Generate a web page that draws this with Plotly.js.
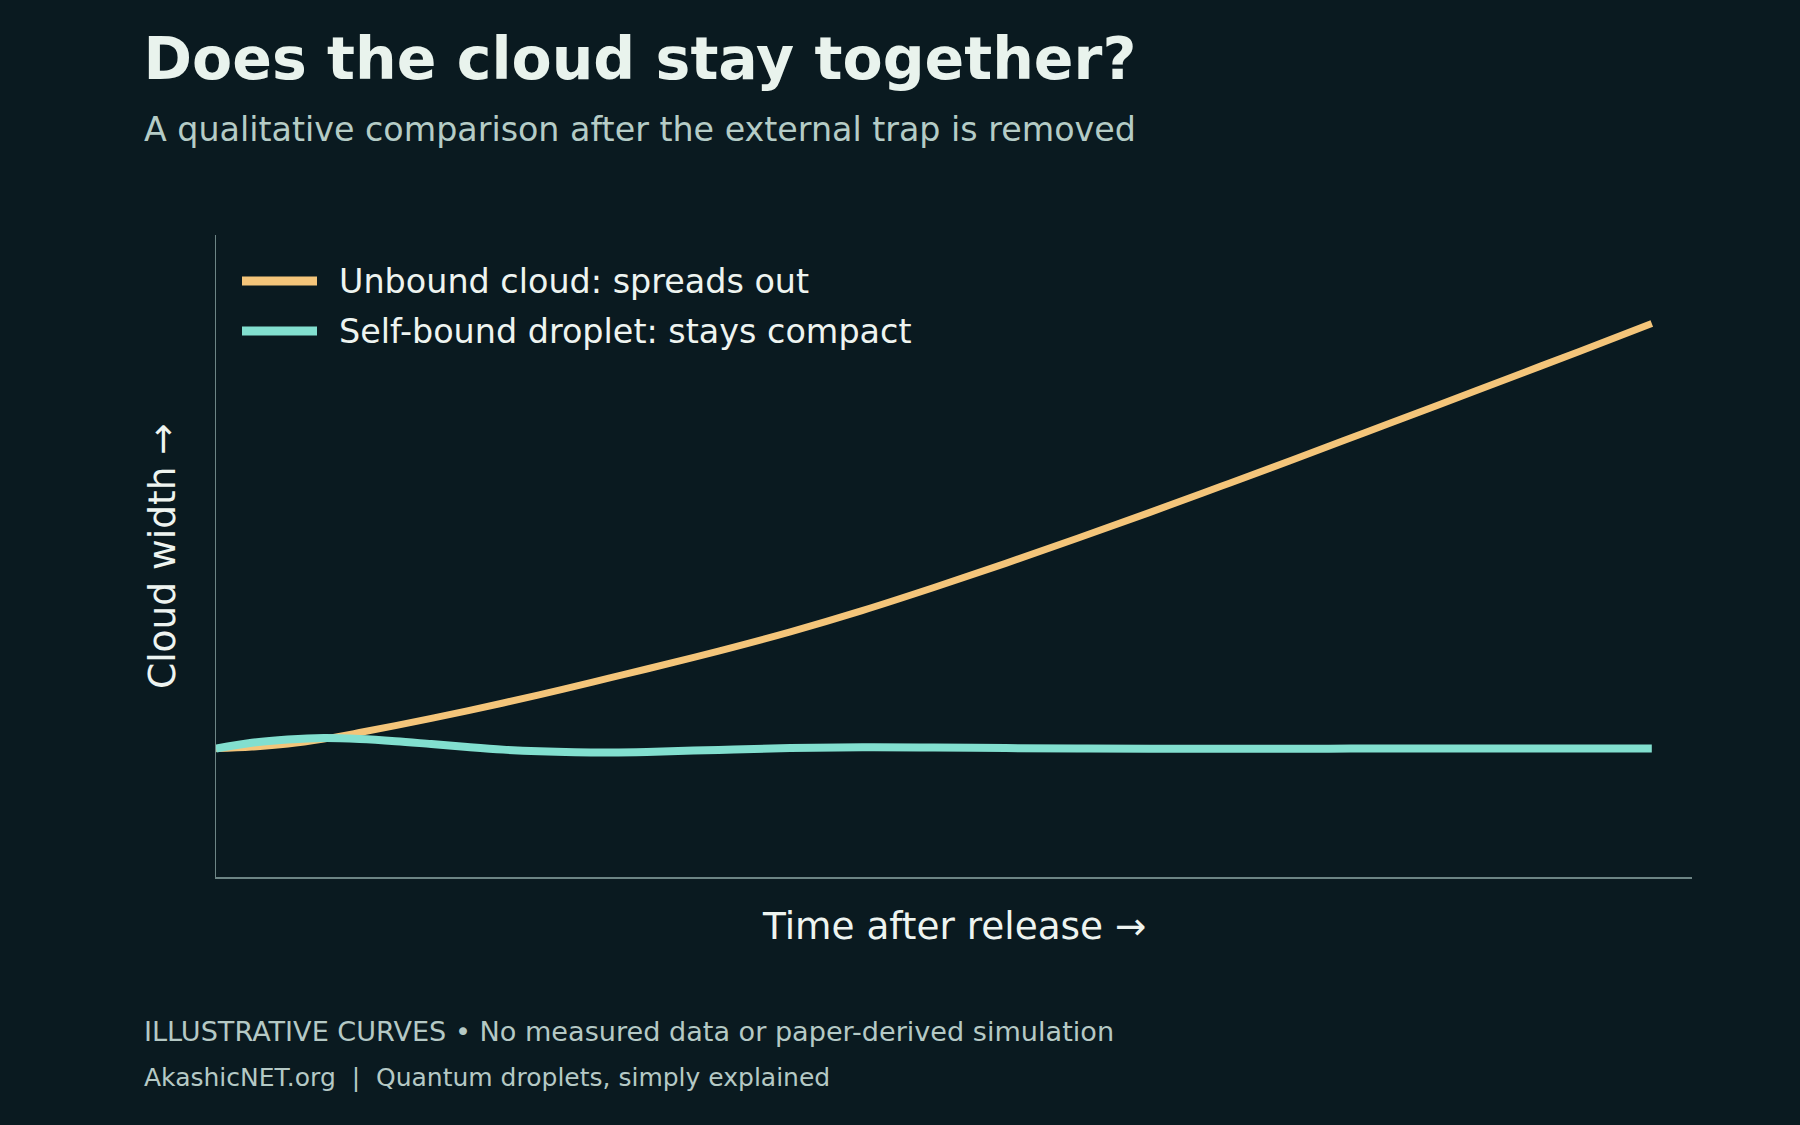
<!DOCTYPE html>
<html>
<head>
<meta charset="utf-8">
<script src="https://cdn.plot.ly/plotly-3.0.1.min.js"></script>
<style>
    html, body { margin: 0; padding: 0; background: #0a1a20; }
    #graph { width: 1800px; height: 1125px; }
</style>
</head>
<body>
<div id="graph"></div>
<script>
/* ----------------Data---------------- */

var timeSteps = [0, 0.25, 0.5, 0.75, 1, 1.25, 1.5, 1.75, 2, 2.25, 2.5, 2.75, 3, 3.5, 4, 4.5, 5, 5.5, 6, 6.5, 7, 7.5, 8, 8.5, 9, 9.5, 10];
var unboundWidth = [1.0, 1.012, 1.036, 1.075, 1.125, 1.179, 1.235, 1.294, 1.355, 1.419, 1.485, 1.552, 1.62, 1.76, 1.91, 2.075, 2.255, 2.443, 2.638, 2.838, 3.043, 3.25, 3.46, 3.67, 3.883, 4.095, 4.31];
var dropletWidth = [1.0, 1.045, 1.07, 1.082, 1.075, 1.058, 1.035, 1.012, 0.992, 0.979, 0.972, 0.97, 0.974, 0.99, 1.004, 1.01, 1.008, 1.004, 1.001, 0.999, 0.999, 0.999, 1.0, 1.0, 1.0, 1.0, 1.0];

var seriesNames = ['Unbound cloud: spreads out', 'Self-bound droplet: stays compact'];
var seriesColors = ['#f4c57a', '#82dfcf'];

var titleText = 'Does the cloud stay together?';
var subtitleText = 'A qualitative comparison after the external trap is removed';
var xTitleText = 'Time after release \u2192';
var yTitleText = 'Cloud width \u2192';
var footerLines = [
    'ILLUSTRATIVE CURVES \u2022 No measured data or paper-derived simulation',
    'AkashicNET.org  |  Quantum droplets, simply explained'
];

/* ----------------Page geometry---------------- */

var W = 1800, H = 1125;
var plotLeft = 216, plotRight = 1692, plotTop = 235, plotBottom = 877;
var plotW = plotRight - plotLeft;
var plotH = plotBottom - plotTop;

var bg = '#0a1a20';
var font = 'DejaVu Sans, Liberation Sans, sans-serif';

/**
 * Converts a page pixel x into paper coordinates.
 * @param {number} x - pixel from the left of the page.
 * @return {number} paper x.
 */
function paperX(x) {
    return (x - plotLeft) / plotW;
}

/**
 * Converts a page pixel y into paper coordinates.
 * @param {number} y - pixel from the top of the page.
 * @return {number} paper y.
 */
function paperY(y) {
    return (plotBottom - y) / plotH;
}

/**
 * Text annotation placed by page pixels, anchored on its left (or center) and middle.
 */
function pageText(text, x, y, size, color, xanchor, angle) {
    return {
        text: text,
        xref: 'paper', yref: 'paper',
        x: paperX(x), y: paperY(y),
        xanchor: xanchor || 'left', yanchor: 'middle',
        textangle: angle || 0,
        showarrow: false,
        borderpad: 0,
        font: { family: font, size: size, color: color }
    };
}

/* ----------------Traces---------------- */

var unboundTrace = {
    x: timeSteps,
    y: unboundWidth,
    mode: 'lines',
    name: seriesNames[0],
    line: { color: seriesColors[0], width: 7, shape: 'spline', smoothing: 1 },
    hoverinfo: 'skip'
};

var dropletTrace = {
    x: timeSteps,
    y: dropletWidth,
    mode: 'lines',
    name: seriesNames[1],
    line: { color: seriesColors[1], width: 8, shape: 'spline', smoothing: 1 },
    hoverinfo: 'skip'
};

var data = [unboundTrace, dropletTrace];

/* ----------------Hand made legend (longer swatches than plotly's)---------------- */

var legendRows = [281, 331];
var shapes = [];
var annotations = [];
for (var i = 0; i < seriesNames.length; i++) {
    shapes.push({
        type: 'line',
        xref: 'paper', yref: 'paper',
        x0: paperX(242), x1: paperX(317),
        y0: paperY(legendRows[i]), y1: paperY(legendRows[i]),
        line: { color: seriesColors[i], width: 9 }
    });
    annotations.push(pageText(seriesNames[i], 337.5, legendRows[i], 33.4, '#eef4f0'));
}

annotations.push(pageText(subtitleText, 143, 129, 33.3, '#b5ccc6'));
annotations.push(pageText(xTitleText, (plotLeft + plotRight) / 2, 926, 37.4, '#eef4f0', 'center'));
annotations.push(pageText(yTitleText, 162, (plotTop + plotBottom) / 2, 37.5, '#eef4f0', 'center', -90));
annotations.push(pageText(footerLines[0], 143, 1031, 27.1, '#b5c9c5'));
annotations.push(pageText(footerLines[1], 143, 1077, 25, '#b5c9c5'));

var axisStyle = {
    showline: true,
    linecolor: '#6d8585',
    linewidth: 1.5,
    showgrid: false,
    zeroline: false,
    showticklabels: false,
    ticks: '',
    fixedrange: true
};

var layout = {
    width: W,
    height: H,
    paper_bgcolor: bg,
    plot_bgcolor: bg,
    showlegend: false,
    margin: { l: plotLeft, r: W - plotRight, t: plotTop, b: H - plotBottom },
    title: {
        text: titleText,
        xref: 'container', yref: 'container',
        x: 143.5 / W, xanchor: 'left',
        y: 1 - 59 / H, yanchor: 'middle',
        font: { family: font, size: 58.5, color: '#e9f3ed', weight: 'bold' }
    },
    xaxis: Object.assign({ range: [0, 10.28] }, axisStyle),
    yaxis: Object.assign({ range: [0, 5.0] }, axisStyle),
    shapes: shapes,
    annotations: annotations
};

var graph = document.getElementById('graph');
Plotly.newPlot(graph, data, layout, { staticPlot: true });
</script>
</body>
</html>
